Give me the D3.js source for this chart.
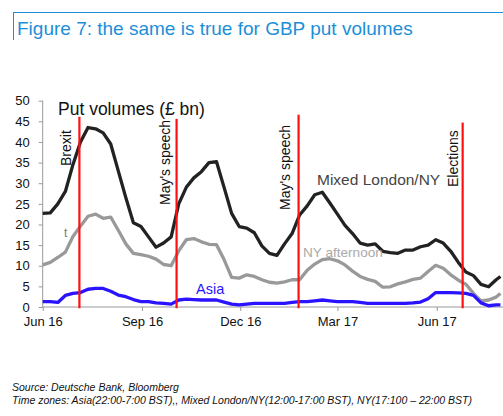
<!DOCTYPE html>
<html><head><meta charset="utf-8">
<script src="https://cdn.jsdelivr.net/npm/d3@7/dist/d3.min.js"></script>
<style>
body{margin:0;background:#fff;}
svg{display:block;font-family:"Liberation Sans",Arial,sans-serif;}
</style></head>
<body>
<svg id="c" width="503" height="416"></svg>
<script>
const dates = ["2016-06-01","2016-06-08","2016-06-15","2016-06-22","2016-06-29","2016-07-06","2016-07-13","2016-07-20","2016-07-27",
"2016-08-03","2016-08-10","2016-08-17","2016-08-24","2016-08-31","2016-09-07","2016-09-14","2016-09-21","2016-09-28",
"2016-10-05","2016-10-12","2016-10-19","2016-10-26","2016-11-02","2016-11-09","2016-11-16","2016-11-23","2016-11-30",
"2016-12-07","2016-12-14","2016-12-21","2016-12-28","2017-01-04","2017-01-11","2017-01-18","2017-01-25",
"2017-02-01","2017-02-08","2017-02-15","2017-02-22","2017-03-01","2017-03-08","2017-03-15","2017-03-22","2017-03-29",
"2017-04-05","2017-04-12","2017-04-19","2017-04-26","2017-05-03","2017-05-10","2017-05-17","2017-05-24","2017-05-31",
"2017-06-07","2017-06-14","2017-06-21","2017-06-28","2017-07-05","2017-07-12","2017-07-19","2017-07-26","2017-07-30"];

const mixedLondonNY = [22.7,22.8,25.0,28.0,34.5,40.0,43.5,43.2,42.2,39.5,33.0,26.5,20.4,19.5,17.0,14.5,15.5,17.0,
25.0,29.0,31.3,32.8,35.0,35.2,29.0,22.7,19.5,19.1,18.0,14.8,13.0,12.5,15.3,17.8,22.3,24.5,27.2,27.8,25.2,22.5,
19.8,17.8,15.5,15.0,15.3,13.5,13.2,13.0,13.8,13.8,14.6,15.0,16.3,15.5,13.5,10.8,8.5,7.6,5.5,4.9,6.6,7.4];

const nyAfternoon = [10.2,10.8,12.0,13.3,17.1,19.6,22.0,22.5,21.5,21.8,18.6,15.3,13.0,12.7,12.3,11.6,10.3,10.0,
13.6,16.3,16.6,15.8,15.2,15.1,11.5,7.2,7.0,7.8,7.4,6.6,6.0,5.8,6.1,6.6,6.6,8.9,10.4,11.5,11.7,11.2,
10.2,8.7,7.4,6.7,6.2,4.8,4.9,5.6,6.1,6.7,7.0,8.6,10.1,9.4,7.8,6.5,5.5,3.3,1.5,1.7,2.4,3.3];

const asia = [1.3,1.3,1.1,2.8,3.3,3.5,4.3,4.5,4.5,3.8,2.9,2.5,1.8,1.3,1.3,1.0,0.9,0.7,
1.7,1.9,1.8,1.7,1.7,1.7,1.2,0.7,0.5,0.7,0.9,0.9,0.9,0.9,0.9,1.1,1.3,1.3,1.5,1.7,1.5,1.3,
1.3,1.3,1.1,0.9,0.9,0.9,0.9,0.9,0.9,1.0,1.2,2.0,3.5,3.5,3.5,3.4,3.3,2.8,1.0,0.3,0.5,0.5];

const yTicks = [0,5,10,15,20,25,30,35,40,45,50];
const xTickDates = ["2016-06-01","2016-09-01","2016-12-01","2017-03-01","2017-06-01"];
const xTickLabels = ["Jun 16","Sep 16","Dec 16","Mar 17","Jun 17"];

const eventNames = ["Brexit","May's speech","May's speech","Elections"];
const eventDates = ["2016-07-05","2016-10-03","2017-01-24","2017-06-25"];
const eventTops = [46.1,45.6,46.6,44.7];

const parse = d3.timeParse("%Y-%m-%d");
const svg = d3.select("#c");

const x = d3.scaleTime().domain([parse("2016-06-01"), parse("2017-08-01")]).range([42.7, 502.6]);
const y = d3.scaleLinear().domain([0, 50]).range([307, 100.7]);

// Title frame
const blue = "#1c8fd8";
svg.append("line").attr("x1",13).attr("x2",503).attr("y1",12.5).attr("y2",12.5).attr("stroke",blue).attr("stroke-width",1);
svg.append("line").attr("x1",13.5).attr("x2",13.5).attr("y1",12).attr("y2",40).attr("stroke",blue).attr("stroke-width",1);
svg.append("text").attr("x",17).attr("y",34.5).attr("fill",blue).attr("font-size",19).text("Figure 7: the same is true for GBP put volumes");

// Y axis
const yAxis = d3.axisLeft(y).tickValues(yTicks).tickSize(4).tickPadding(9);
const gy = svg.append("g").attr("transform","translate(42.7,0)").call(yAxis);
gy.select(".domain").attr("stroke","#999").attr("d","M0,100.7V307");
gy.selectAll(".tick line").attr("stroke","#999");
gy.selectAll(".tick text").attr("font-size",13).attr("fill","#111").attr("font-family","Liberation Sans, Arial, sans-serif");

// X axis
const xAxis = d3.axisBottom(x).tickValues(xTickDates.map(parse)).tickFormat((d,i)=>xTickLabels[i]).tickSize(4).tickPadding(6);
const gx = svg.append("g").attr("transform","translate(0,307)").call(xAxis);
gx.select(".domain").attr("stroke","#999").attr("d","M42.7,0H503");
gx.selectAll(".tick line").attr("stroke","#999");
gx.selectAll(".tick text").attr("font-size",13).attr("fill","#111").attr("font-family","Liberation Sans, Arial, sans-serif");

// Lines
const mk = vals => d3.line().x((d,i)=>x(parse(dates[i]))).y(d=>y(d))(vals);
svg.append("path").attr("d",mk(nyAfternoon)).attr("fill","none").attr("stroke","#999").attr("stroke-width",3.3).attr("stroke-linejoin","round");
svg.append("path").attr("d",mk(mixedLondonNY)).attr("fill","none").attr("stroke","#222").attr("stroke-width",3.3).attr("stroke-linejoin","round");
svg.append("path").attr("d",mk(asia)).attr("fill","none").attr("stroke","#2a14ff").attr("stroke-width",3.3).attr("stroke-linejoin","round");

// Event lines
eventDates.forEach((d,i)=>{
  const xx = x(parse(d));
  svg.append("line").attr("x1",xx).attr("x2",xx).attr("y1",y(eventTops[i])).attr("y2",y(-0.3))
     .attr("stroke","#ff1010").attr("stroke-width",2.2);
});
const labelPos = [[71,166],[170,205],[290,210],[458,187]];
eventNames.forEach((n,i)=>{
  svg.append("text").attr("transform",`translate(${labelPos[i][0]},${labelPos[i][1]}) rotate(-90)`)
     .attr("font-size",14).attr("fill","#111").text(n);
});

// Labels
svg.append("text").attr("x",58).attr("y",115).attr("font-size",17.5).attr("fill","#111").text("Put volumes (£ bn)");
svg.append("text").attr("x",317).attr("y",185).attr("font-size",15.5).attr("fill","#444").text("Mixed London/NY");
svg.append("text").attr("x",303).attr("y",257).attr("font-size",13.6).attr("fill","#aaa").text("NY afternoon");
svg.append("text").attr("x",196).attr("y",294).attr("font-size",14.5).attr("fill","#2a14ff").text("Asia");
svg.append("text").attr("x",64).attr("y",237).attr("font-size",12).attr("fill","#777").text("t");

// Footer
svg.append("text").attr("x",12).attr("y",391).attr("font-size",10.5).attr("font-style","italic").attr("fill","#111").text("Source: Deutsche Bank, Bloomberg");
svg.append("text").attr("x",12).attr("y",404).attr("font-size",10.5).attr("font-style","italic").attr("fill","#111").text("Time zones: Asia(22:00-7:00 BST),, Mixed London/NY(12:00-17:00 BST), NY(17:100 – 22:00 BST)");
</script>
</body></html>
